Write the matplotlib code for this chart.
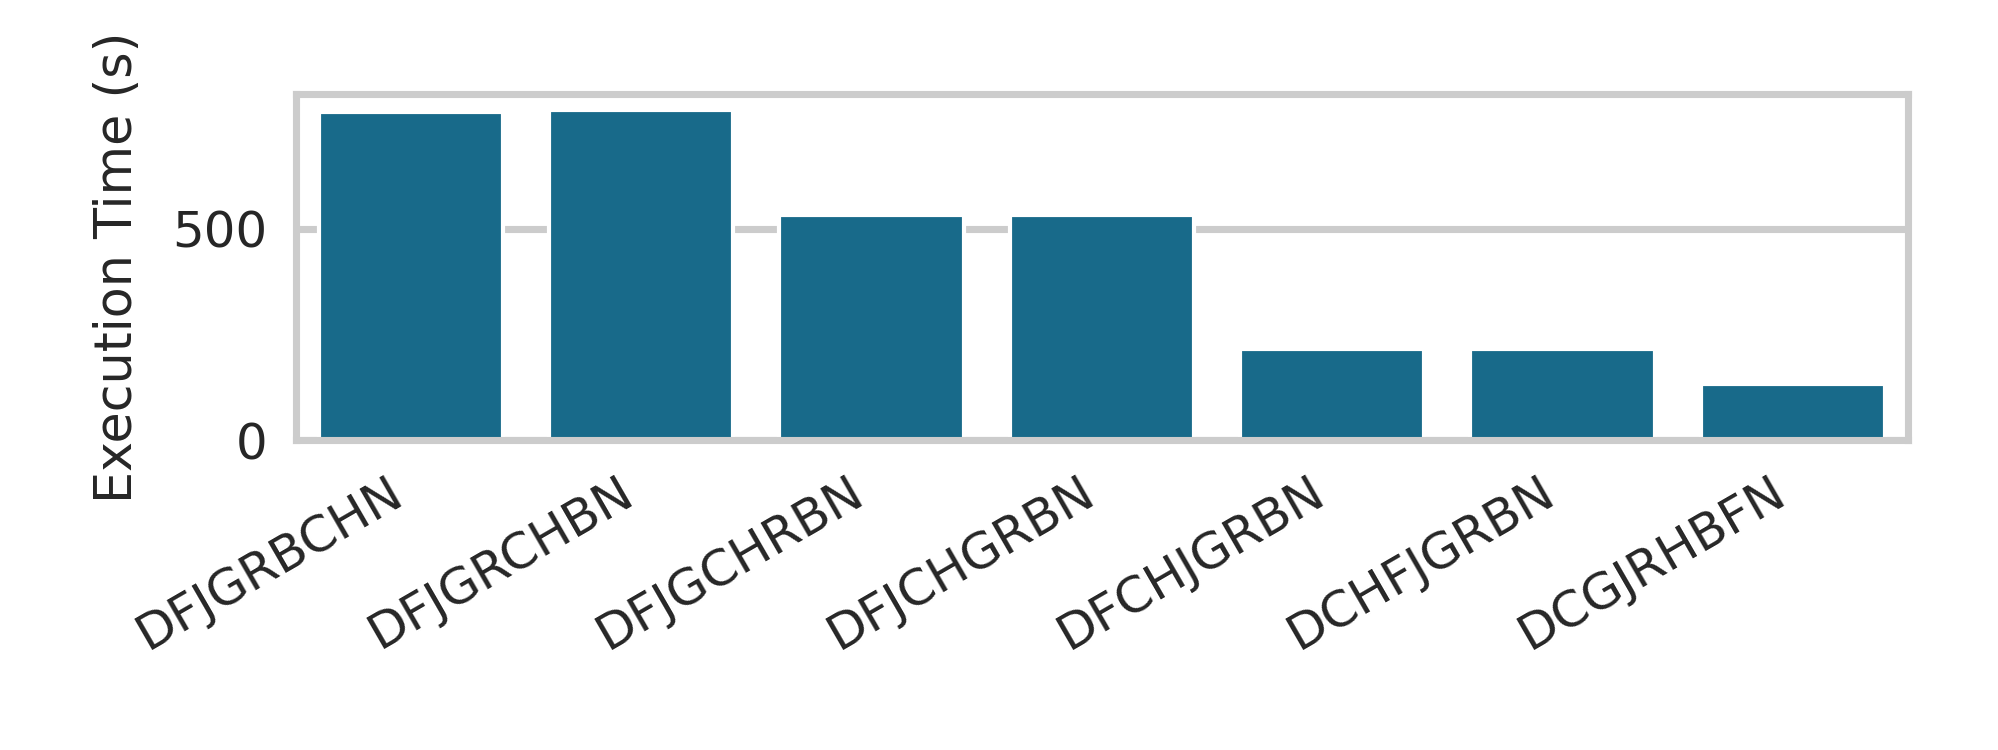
import matplotlib
matplotlib.use("Agg")
import matplotlib.pyplot as plt
import seaborn as sns

# Execution time per ordering
orders = ["DFJGRBCHN", "DFJGRCHBN", "DFJGCHRBN", "DFJCHGRBN",
          "DFCHJGRBN", "DCHFJGRBN", "DCGJRHBFN"]
times = [776, 781, 533, 533, 217, 217, 133]

sns.set_theme(style="whitegrid", context="notebook",
              rc={"axes.linewidth": 1.7, "grid.linewidth": 1.7,
                  "xtick.labelsize": 12, "ytick.labelsize": 12,
                  "axes.labelsize": 12.2,
                  "xtick.major.pad": 0.7, "ytick.major.pad": 0.7})

fig = plt.figure(figsize=(6.66, 2.5), dpi=300)
ax = fig.add_axes([0.148, 0.413, 0.807, 0.462])

sns.barplot(x=orders, y=times, color="#186a8a", saturation=1, ax=ax)

ax.set_ylabel("Execution Time (s)", labelpad=7)
ax.set_xlabel("")
plt.setp(ax.get_xticklabels(), rotation=30, ha="right")

fig.savefig("out.png", dpi=300)
